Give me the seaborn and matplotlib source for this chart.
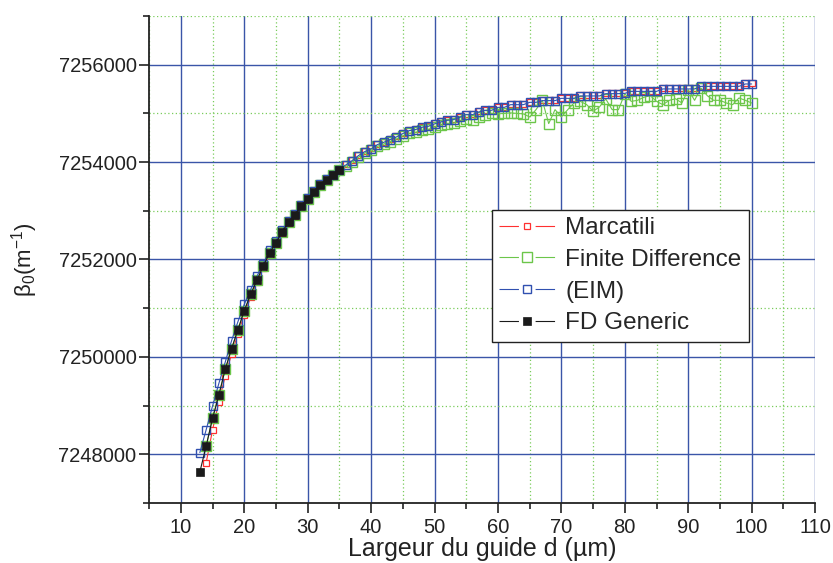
import numpy as np
import pandas as pd
import matplotlib
matplotlib.use('Agg')
import matplotlib.pyplot as plt
from matplotlib.ticker import MultipleLocator
import seaborn as sns

# guide width d (um) for each series
d_marcatili = np.arange(14, 101)
d_fd = np.arange(14, 101)
d_eim = np.arange(13, 101)
d_generic = np.arange(13, 36)

# propagation constant beta0 (1/m)
beta_generic = [7247637, 7248170, 7248738, 7249216, 7249744, 7250168, 7250555, 7250950,
                7251282, 7251575, 7251865, 7252137, 7252342, 7252574, 7252765, 7252917,
                7253108, 7253251, 7253395, 7253532, 7253635, 7253729, 7253832]

beta_eim = [7248035, 7248506, 7248991, 7249456, 7249893, 7250332, 7250722, 7251077,
            7251380, 7251655, 7251916, 7252187, 7252382, 7252604, 7252790, 7252937,
            7253123, 7253266, 7253410, 7253547, 7253650, 7253744, 7253847, 7253940,
            7254030, 7254133, 7254215, 7254271, 7254359, 7254406, 7254462, 7254517,
            7254585, 7254646, 7254667, 7254714, 7254734, 7254784, 7254825, 7254857,
            7254872, 7254919, 7254974, 7254974, 7255030, 7255063, 7255063, 7255124,
            7255124, 7255179, 7255179, 7255179, 7255227, 7255227, 7255262, 7255262,
            7255262, 7255309, 7255309, 7255309, 7255358, 7255358, 7255358, 7255358,
            7255405, 7255405, 7255405, 7255411, 7255452, 7255452, 7255452, 7255452,
            7255452, 7255502, 7255502, 7255502, 7255502, 7255502, 7255502, 7255555,
            7255555, 7255555, 7255555, 7255555, 7255555, 7255555, 7255604, 7255604]

beta_marcatili = [7247830, 7248499, 7249081, 7249606, 7250060, 7250470, 7250870, 7251220,
                  7251530, 7251820, 7252100, 7252310, 7252550, 7252745, 7252900, 7253095,
                  7253240, 7253385, 7253522, 7253625, 7253720, 7253825, 7253955, 7254045,
                  7254148, 7254230, 7254286, 7254374, 7254421, 7254477, 7254532, 7254600,
                  7254661, 7254682, 7254729, 7254749, 7254799, 7254840, 7254872, 7254887,
                  7254934, 7254989, 7254989, 7255045, 7255078, 7255078, 7255139, 7255139,
                  7255194, 7255194, 7255194, 7255242, 7255242, 7255277, 7255277, 7255277,
                  7255324, 7255324, 7255324, 7255373, 7255373, 7255373, 7255373, 7255420,
                  7255420, 7255420, 7255426, 7255467, 7255467, 7255467, 7255467, 7255467,
                  7255517, 7255517, 7255517, 7255517, 7255517, 7255517, 7255570, 7255570,
                  7255570, 7255570, 7255570, 7255570, 7255570, 7255619, 7255619]

beta_fd = [7248170, 7248738, 7249216, 7249744, 7250168, 7250555, 7250950, 7251282,
           7251575, 7251865, 7252137, 7252342, 7252574, 7252765, 7252917, 7253108,
           7253251, 7253395, 7253532, 7253635, 7253729, 7253832, 7253910, 7254000,
           7254100, 7254185, 7254240, 7254325, 7254370, 7254420, 7254475, 7254540,
           7254590, 7254610, 7254650, 7254670, 7254720, 7254760, 7254790, 7254800,
           7254840, 7254880, 7254870, 7254930, 7254974, 7255000, 7254990, 7255000,
           7255010, 7255000, 7254990, 7254927, 7255077, 7255268, 7254790, 7255077,
           7254927, 7255077, 7255214, 7255247, 7255179, 7255042, 7255132, 7255296,
           7255077, 7255077, 7255405, 7255247, 7255268, 7255330, 7255364, 7255247,
           7255179, 7255268, 7255300, 7255214, 7255487, 7255268, 7255521, 7255364,
           7255268, 7255268, 7255214, 7255179, 7255317, 7255268, 7255214]

sns.set_style('ticks')
plt.rcParams['font.family'] = ['Liberation Sans', 'DejaVu Sans']
plt.rcParams['mathtext.default'] = 'regular'

fig = plt.figure(figsize=(8.33, 5.63), dpi=100)
ax = fig.add_axes([0.179, 0.1066, 0.7995, 0.865])

# major / minor grid
ax.set_axisbelow(True)
ax.xaxis.set_major_locator(MultipleLocator(10))
ax.xaxis.set_minor_locator(MultipleLocator(5))
ax.yaxis.set_major_locator(MultipleLocator(2000))
ax.yaxis.set_minor_locator(MultipleLocator(1000))
ax.grid(which='major', color='#3a55a8', linewidth=1.0)
ax.grid(which='minor', color='#7acc5c', linewidth=0.9, linestyle=(0, (1, 2)))

sns.lineplot(x=d_marcatili, y=beta_marcatili, ax=ax, color='#ff3030', linewidth=0.8,
             marker='s', markersize=4.3, markerfacecolor='white', markeredgecolor='#ff3030',
             markeredgewidth=0.9, label='Marcatili', sort=False, zorder=3)
sns.lineplot(x=d_fd, y=beta_fd, ax=ax, color='#6cc64a', linewidth=0.8,
             marker='s', markersize=7.2, markerfacecolor='none', markeredgecolor='#6cc64a',
             markeredgewidth=1.0, label='Finite Difference', sort=False, zorder=4)
sns.lineplot(x=d_eim, y=beta_eim, ax=ax, color='#3050b0', linewidth=0.8,
             marker='s', markersize=5.5, markerfacecolor='none', markeredgecolor='#3050b0',
             markeredgewidth=1.0, label='(EIM)', sort=False, zorder=5)
sns.lineplot(x=d_generic, y=beta_generic, ax=ax, color='#1a1a1a', linewidth=0.8,
             marker='s', markersize=5.5, markerfacecolor='#1a1a1a', markeredgecolor='#1a1a1a',
             markeredgewidth=0.5, label='FD Generic', sort=False, zorder=6)

ax.set_xlim(5, 110)
ax.set_ylim(7247000, 7257000)
ax.ticklabel_format(axis='y', useOffset=False, style='plain')
sns.despine(ax=ax)
for s in ['left', 'bottom']:
    ax.spines[s].set_linewidth(1.3)
    ax.spines[s].set_color('#222222')

ax.tick_params(which='major', direction='out', length=7, width=1.2, color='#222222',
               labelsize=14.5, labelcolor='#222222')
ax.tick_params(which='minor', direction='out', length=4.5, width=1.2, color='#222222')
ax.tick_params(axis='y', which='major', pad=2)
ax.tick_params(axis='x', which='major', pad=4)

ax.set_xlabel('Largeur du guide d (µm)', fontsize=18, color='#222222', labelpad=0)
ax.set_ylabel('β$_0$(m$^{-1}$)', fontsize=16, color='#222222', labelpad=13)

leg = ax.legend(loc='upper left', bbox_to_anchor=(0.515, 0.602), borderaxespad=0,
                fancybox=False, framealpha=1, edgecolor='#222222', fontsize=17.5,
                handlelength=2.3, handletextpad=0.4, labelspacing=0.4, borderpad=0.3)
leg.get_frame().set_linewidth(1.0)
for ln in leg.get_lines():
    # line - gap with marker - line, like the original legend keys
    ln.set_dashes([14 / 0.8, 12 / 0.8])

plt.savefig('out.png', dpi=100)
